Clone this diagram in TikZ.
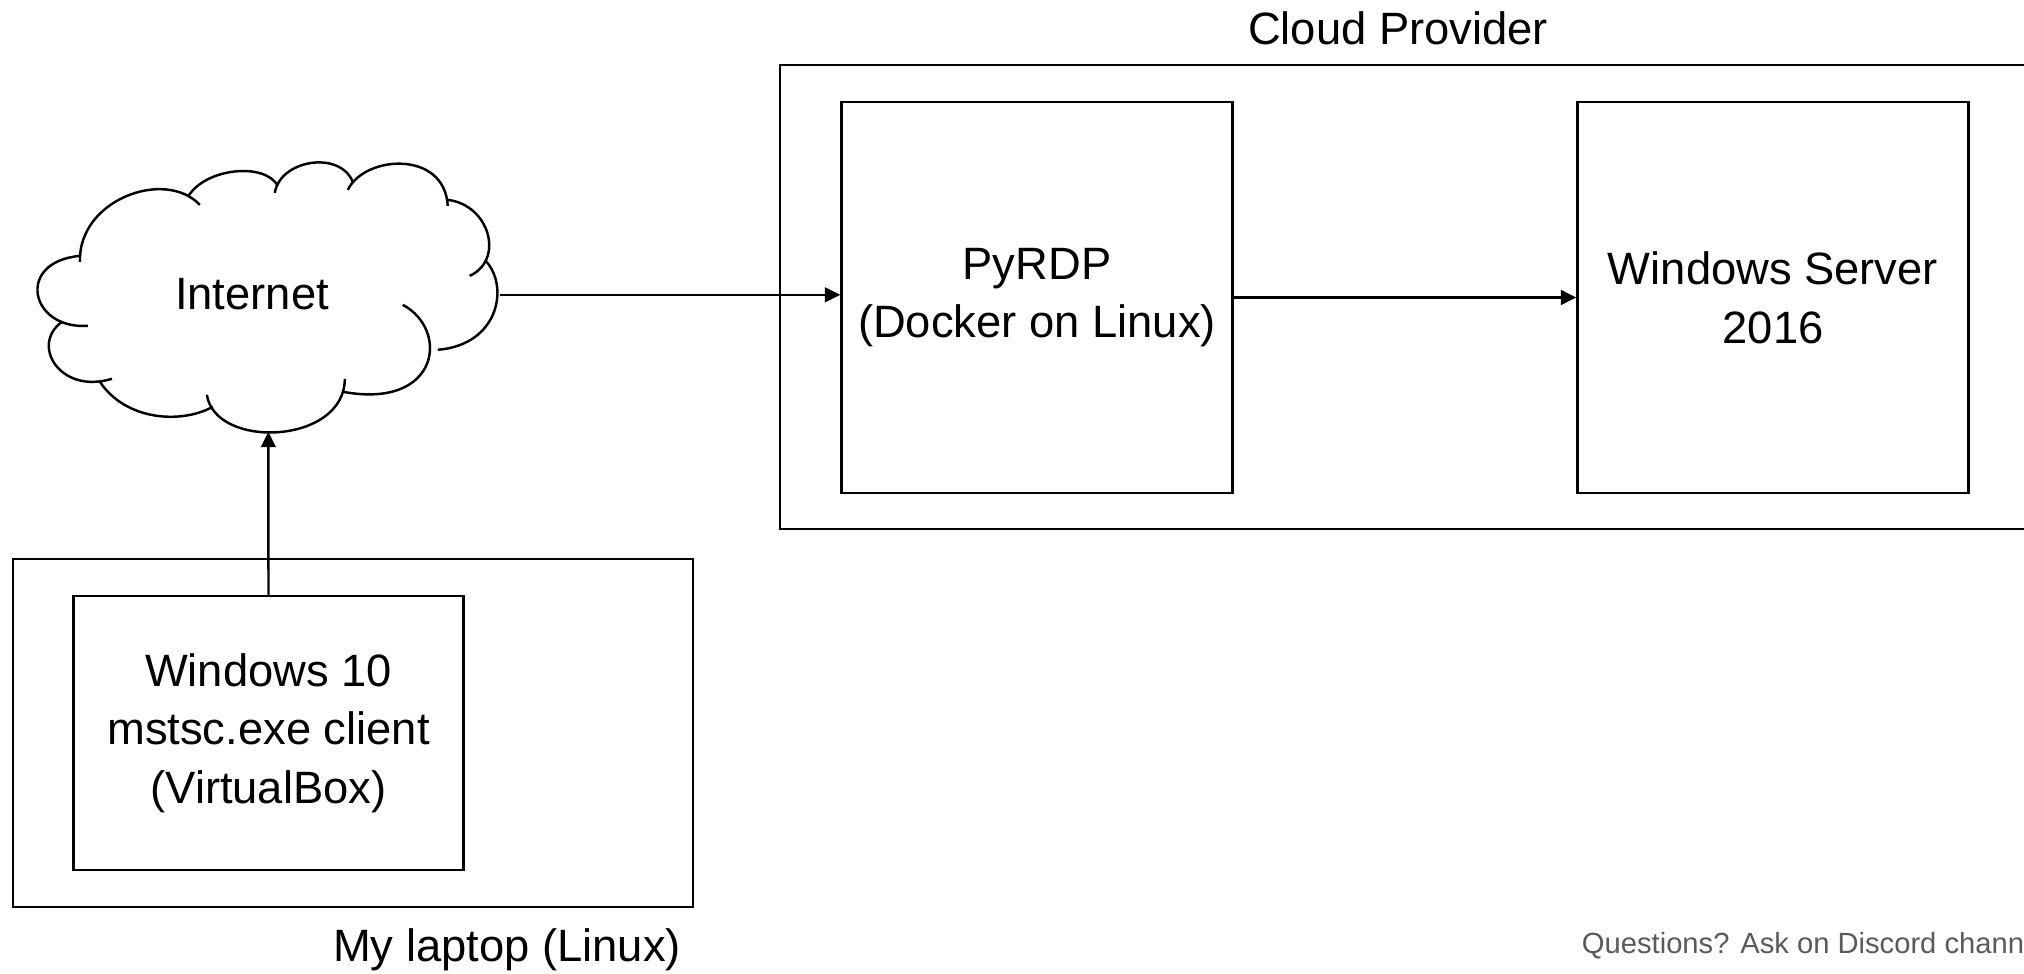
\documentclass[tikz,border=0pt]{standalone}
\usepackage{fontspec}
\setmainfont{Liberation Sans}
\usetikzlibrary{arrows.meta,positioning}
\definecolor{cNote}{HTML}{5A5A5A}

\begin{document}
\begin{tikzpicture}[font=\fontsize{12.9}{16.7}\selectfont, >={Triangle[length=4.4pt,width=4.2pt]}, line width=0.7pt,
  box/.style={draw, rectangle, inner sep=0pt, align=center}]
\useasboundingbox (0,0) rectangle (20.24,-9.73);
% cloud side
\node[box, minimum width=12.5cm, minimum height=4.645cm] (prov) at (14.05,-2.97) {};
\node (provl) at (13.98,-0.28) {Cloud Provider};
\node[box, minimum width=3.91cm, minimum height=3.91cm] (pyrdp) at (10.37,-2.975) {PyRDP\\(Docker on Linux)};
\node[box, minimum width=3.91cm, minimum height=3.91cm] (wsrv) at (17.73,-2.975) {Windows Server\\2016};
% laptop side
\node[box, minimum width=6.8cm, minimum height=3.48cm] (lap) at (3.53,-7.33) {};
\node[box, minimum width=3.9cm, minimum height=2.74cm] (w10) at (2.685,-7.33) {Windows 10\\mstsc.exe client\\(VirtualBox)};
\node (lapl) at (5.07,-9.50) {My laptop (Linux)};
% the internet cloud, lobe by lobe (pixel units)
\node (inet) at (2.52,-2.94) {Internet};
\begin{scope}[x=0.01cm, y=-0.01cm]
\draw (88,326) .. controls (30,330) and (15,262) .. (80,256);
\draw (80,262) .. controls (78,200) and (165,168) .. (200,205);
\draw (188,197) .. controls (205,168) and (265,162) .. (278,186);
\draw (275,193) .. controls (280,160) and (340,150) .. (353,182);
\draw (348,190) .. controls (365,155) and (445,150) .. (448,206);
\draw (448,200) .. controls (490,205) and (505,260) .. (470,276);
\draw (485,260) .. controls (510,285) and (500,345) .. (438,350);
\draw (403,305) .. controls (450,330) and (440,410) .. (343,392);
\draw (345,379) .. controls (345,445) and (215,450) .. (207,395);
\draw (213,407) .. controls (180,425) and (125,420) .. (100,382);
\draw (112,379) .. controls (60,395) and (30,345) .. (62,322);
\coordinate (inetR) at (500,295);
\coordinate (inetB) at (268.5,432);
\end{scope}
\draw[->] (w10.north) -- (inetB);
\draw[->] (inetR) -- (pyrdp.west |- inetR);
\draw[->] (pyrdp.east) -- (wsrv.west);
\node[anchor=west, text=cNote, font=\fontsize{8.3}{10}\selectfont] (note) at (15.69,-9.46) {Questions? Ask on Discord channel};
\end{tikzpicture}
\end{document}
